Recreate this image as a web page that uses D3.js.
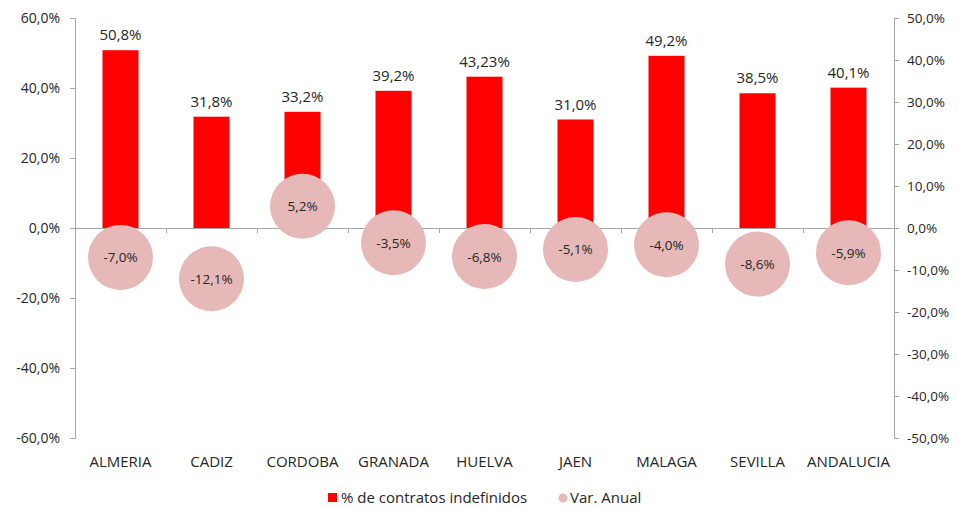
<!DOCTYPE html>
<html>
<head>
<meta charset="utf-8">
<script src="https://cdn.jsdelivr.net/npm/d3@7"></script>
<style>
  html, body { margin: 0; padding: 0; background: #fff; overflow: hidden; }
  svg { display: block; }
  svg text { font-family: "Open Sans", "Noto Sans", sans-serif; fill: #262626; }
</style>
</head>
<body>
<div class="container"></div>
<script>
const provincias = ["ALMERIA", "CADIZ", "CORDOBA", "GRANADA", "HUELVA", "JAEN", "MALAGA", "SEVILLA", "ANDALUCIA"];
const indefinidos = [50.8, 31.8, 33.2, 39.2, 43.23, 31.0, 49.2, 38.5, 40.1];
const indefinidosLabels = ["50,8%", "31,8%", "33,2%", "39,2%", "43,23%", "31,0%", "49,2%", "38,5%", "40,1%"];
const varAnual = [-7.0, -12.1, 5.2, -3.5, -6.8, -5.1, -4.0, -8.6, -5.9];
const leftTicks = [60, 40, 20, 0, -20, -40, -60];
const rightTicks = [50, 40, 30, 20, 10, 0, -10, -20, -30, -40, -50];

const width = 958;
const height = 509;
const margin = { top: 18, right: 64, bottom: 71, left: 75 };
const innerWidth = width - margin.left - margin.right;
const innerHeight = height - margin.top - margin.bottom;
const fmt = (v) => v.toFixed(1).replace(".", ",") + "%";
const axisColor = "#a6a6a6";

const data = provincias.map((p, i) => ({
  name: p, bar: indefinidos[i], barLabel: indefinidosLabels[i], v: varAnual[i]
}));

const svg = d3.select(".container").append("svg")
  .attr("width", width)
  .attr("height", height);

const g = svg.append("g")
  .attr("transform", `translate(${margin.left},${margin.top})`);

const xScale = d3.scaleBand().domain(provincias).range([0, innerWidth]);
const yLeft = d3.scaleLinear().domain([-60, 60]).range([innerHeight, 0]);
const yRight = d3.scaleLinear().domain([-50, 50]).range([innerHeight, 0]);

// left axis
const leftAxis = g.append("g")
  .call(d3.axisLeft(yLeft).tickValues(leftTicks).tickFormat(fmt).tickSize(5).tickPadding(10));
leftAxis.select(".domain").attr("stroke", axisColor).attr("d", `M-5,0.5H0.5V${innerHeight + 0.5}H-5`);
leftAxis.selectAll(".tick line").attr("stroke", axisColor);
leftAxis.selectAll(".tick text").attr("font-size", 14).attr("fill", "#262626");

// right axis
const rightAxis = g.append("g")
  .attr("transform", `translate(${innerWidth},0)`)
  .call(d3.axisRight(yRight).tickValues(rightTicks).tickFormat(fmt).tickSize(5).tickPadding(8));
rightAxis.select(".domain").attr("stroke", axisColor).attr("d", `M5,0.5H0.5V${innerHeight + 0.5}H5`);
rightAxis.selectAll(".tick line").attr("stroke", axisColor);
rightAxis.selectAll(".tick text").attr("font-size", 13.5).attr("fill", "#262626");

// bars
const barW = 36;
g.selectAll("rect.bar")
  .data(data)
  .enter()
  .append("rect")
  .attr("class", "bar")
  .attr("x", (d) => xScale(d.name) + xScale.bandwidth() / 2 - barW / 2)
  .attr("y", (d) => yLeft(d.bar))
  .attr("width", barW)
  .attr("height", (d) => yLeft(0) - yLeft(d.bar))
  .attr("fill", "#ff0000");

g.selectAll("text.barlabel")
  .data(data)
  .enter()
  .append("text")
  .attr("class", "barlabel")
  .attr("x", (d) => xScale(d.name) + xScale.bandwidth() / 2)
  .attr("y", (d) => yLeft(d.bar) - 10)
  .attr("text-anchor", "middle")
  .attr("font-size", 15)
  .text((d) => d.barLabel);

// x axis on zero line
const zeroY = yLeft(0);
const xAxisG = g.append("g").attr("transform", `translate(0,${zeroY})`);
xAxisG.append("line")
  .attr("x1", 0).attr("x2", innerWidth)
  .attr("y1", 0.5).attr("y2", 0.5)
  .attr("stroke", axisColor);
xAxisG.selectAll("line.tk")
  .data(provincias.slice(1))
  .enter()
  .append("line")
  .attr("class", "tk")
  .attr("x1", (d) => Math.round(xScale(d)) + 0.5)
  .attr("x2", (d) => Math.round(xScale(d)) + 0.5)
  .attr("y1", 0).attr("y2", 5)
  .attr("stroke", axisColor);

// bubbles
g.selectAll("circle.var")
  .data(data)
  .enter()
  .append("circle")
  .attr("class", "var")
  .attr("cx", (d) => xScale(d.name) + xScale.bandwidth() / 2)
  .attr("cy", (d) => yRight(d.v))
  .attr("r", 32.5)
  .attr("fill", "#e6b9b8");

g.selectAll("text.varlabel")
  .data(data)
  .enter()
  .append("text")
  .attr("class", "varlabel")
  .attr("x", (d) => xScale(d.name) + xScale.bandwidth() / 2)
  .attr("y", (d) => yRight(d.v) + 5)
  .attr("text-anchor", "middle")
  .attr("font-size", 13.5)
  .text((d) => fmt(d.v));

// category labels
g.selectAll("text.cat")
  .data(provincias)
  .enter()
  .append("text")
  .attr("class", "cat")
  .attr("x", (d) => xScale(d) + xScale.bandwidth() / 2)
  .attr("y", innerHeight + 29)
  .attr("text-anchor", "middle")
  .attr("font-size", 15)
  .text((d) => d);

// legend
const legend = svg.append("g").attr("transform", "translate(328,498)");
legend.append("rect").attr("x", 0).attr("y", -5).attr("width", 9).attr("height", 9).attr("fill", "#ff0000");
legend.append("text").attr("x", 13).attr("y", 5).attr("font-size", 15).text("% de contratos indefinidos");
legend.append("circle").attr("cx", 235).attr("cy", 0).attr("r", 4.5).attr("fill", "#e6b9b8");
legend.append("text").attr("x", 242).attr("y", 5).attr("font-size", 15).text("Var. Anual");
</script>
</body>
</html>
